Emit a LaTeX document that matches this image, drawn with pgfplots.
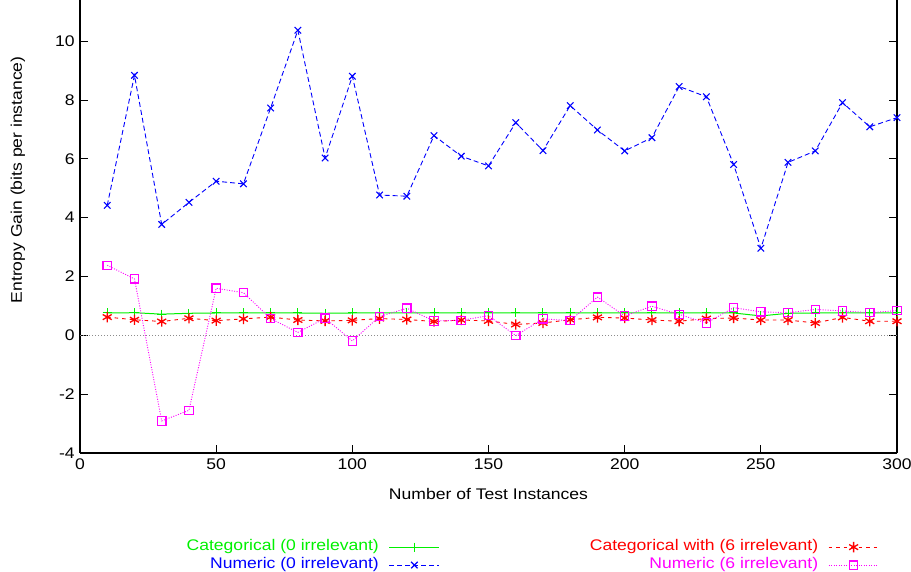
\documentclass[border=0pt]{standalone}
\usepackage{fontspec}
\setmainfont[FakeStretch=1.14]{Liberation Sans}
\usepackage{pgfplots}
\pgfplotsset{compat=1.18}
\definecolor{cgreen}{RGB}{0,240,0}
\definecolor{cblue}{RGB}{0,0,255}
\definecolor{cred}{RGB}{255,0,0}
\definecolor{cmag}{RGB}{255,0,255}
\definecolor{cgray}{RGB}{140,140,140}
\begin{document}
\fontsize{15.4}{18}\selectfont
\begin{tikzpicture}
\begin{axis}[
  name=ax,
  scale only axis, width=817pt, height=453pt,
  xmin=0, xmax=300, ymin=-4, ymax=11.4,
  axis x line*=bottom, axis y line*=box,
  axis line style={line width=1.2pt, black},
  xtick={0,50,...,300}, ytick={-4,-2,...,10},
  tick align=inside, major tick length=8pt,
  tick style={line width=1pt, black},
  /pgf/number format/assume math mode=true,
  xlabel={Number of Test Instances},
  ylabel={Entropy Gain (bits per instance)},
  x label style={at={(axis description cs:0.5,-0.0905)}, anchor=center},
  y label style={at={(axis description cs:-0.0759,0.603)}, anchor=center},
  legend plot pos=right,
  legend cell align=right,
  legend columns=2, transpose legend,
  legend image code/.code={\draw[mark repeat=2,mark phase=2,#1] plot coordinates {(0pt,0pt)(25pt,0pt)(50pt,0pt)};},
  legend style={draw=none, fill=none, at={(axis description cs:0.982,-0.183)}, anchor=north east,
    nodes={inner sep=0pt, text height=12pt, text depth=6pt},
    /tikz/column sep=10pt,
    /tikz/column 2/.append style={column sep=150pt}},
]
\addplot[draw=cgreen, line width=1pt, mark=+, mark size=4.5pt, mark options={solid, draw=cgreen, line width=1pt}] coordinates {
(10,0.76) (20,0.77) (30,0.72) (40,0.75) (50,0.76) (60,0.76) (70,0.76) (80,0.76) (90,0.75) (100,0.76)
(110,0.76) (120,0.76) (130,0.76) (140,0.76) (150,0.76) (160,0.76) (170,0.76) (180,0.76) (190,0.76) (200,0.76)
(210,0.76) (220,0.76) (230,0.76) (240,0.76) (250,0.66) (260,0.75) (270,0.76) (280,0.76) (290,0.76) (300,0.76)};
\addlegendentry[text=cgreen]{Categorical (0 irrelevant)}
\addplot[draw=cblue, line width=0.9pt, dash pattern=on 5pt off 3pt, mark=x, mark size=4.6pt, mark options={solid, draw=cblue, line width=1.1pt}] coordinates {
(10,4.42) (20,8.84) (30,3.77) (40,4.52) (50,5.24) (60,5.15) (70,7.73) (80,10.37) (90,6.03) (100,8.81)
(110,4.77) (120,4.73) (130,6.79) (140,6.09) (150,5.76) (160,7.23) (170,6.28) (180,7.81) (190,6.98) (200,6.27)
(210,6.72) (220,8.46) (230,8.11) (240,5.81) (250,2.96) (260,5.88) (270,6.27) (280,7.91) (290,7.09) (300,7.40)};
\addlegendentry[text=cblue]{Numeric (0 irrelevant)}
\addplot[draw=cred, line width=0.9pt, dash pattern=on 3.5pt off 4pt, mark=asterisk, mark size=5.2pt, mark options={solid, draw=cred, line width=1.3pt}] coordinates {
(10,0.62) (20,0.53) (30,0.47) (40,0.58) (50,0.50) (60,0.56) (70,0.62) (80,0.52) (90,0.49) (100,0.51)
(110,0.57) (120,0.54) (130,0.47) (140,0.52) (150,0.49) (160,0.37) (170,0.42) (180,0.53) (190,0.61) (200,0.59)
(210,0.52) (220,0.48) (230,0.57) (240,0.59) (250,0.52) (260,0.52) (270,0.42) (280,0.61) (290,0.48) (300,0.48)};
\addlegendentry[text=cred]{Categorical with (6 irrelevant)}
\addplot[draw=cmag, line width=0.9pt, dash pattern=on 1pt off 1.5pt, mark=square, mark size=4.2pt, mark options={solid, draw=cmag, line width=1.2pt}] coordinates {
(10,2.38) (20,1.92) (30,-2.91) (40,-2.55) (50,1.60) (60,1.45) (70,0.57) (80,0.10) (90,0.58) (100,-0.19)
(110,0.64) (120,0.92) (130,0.49) (140,0.51) (150,0.67) (160,-0.01) (170,0.56) (180,0.50) (190,1.30) (200,0.66)
(210,0.99) (220,0.71) (230,0.42) (240,0.94) (250,0.80) (260,0.77) (270,0.88) (280,0.83) (290,0.77) (300,0.84)};
\addlegendentry[text=cmag]{Numeric (6 irrelevant)}
\addplot[draw=cgray, dotted, line width=1pt, forget plot] coordinates {(0,0) (300,0)};
\end{axis}
\pgfresetboundingbox
\useasboundingbox ([xshift=-80pt,yshift=-118pt]ax.south west) rectangle ([xshift=14pt]ax.north east);
\end{tikzpicture}
\end{document}
